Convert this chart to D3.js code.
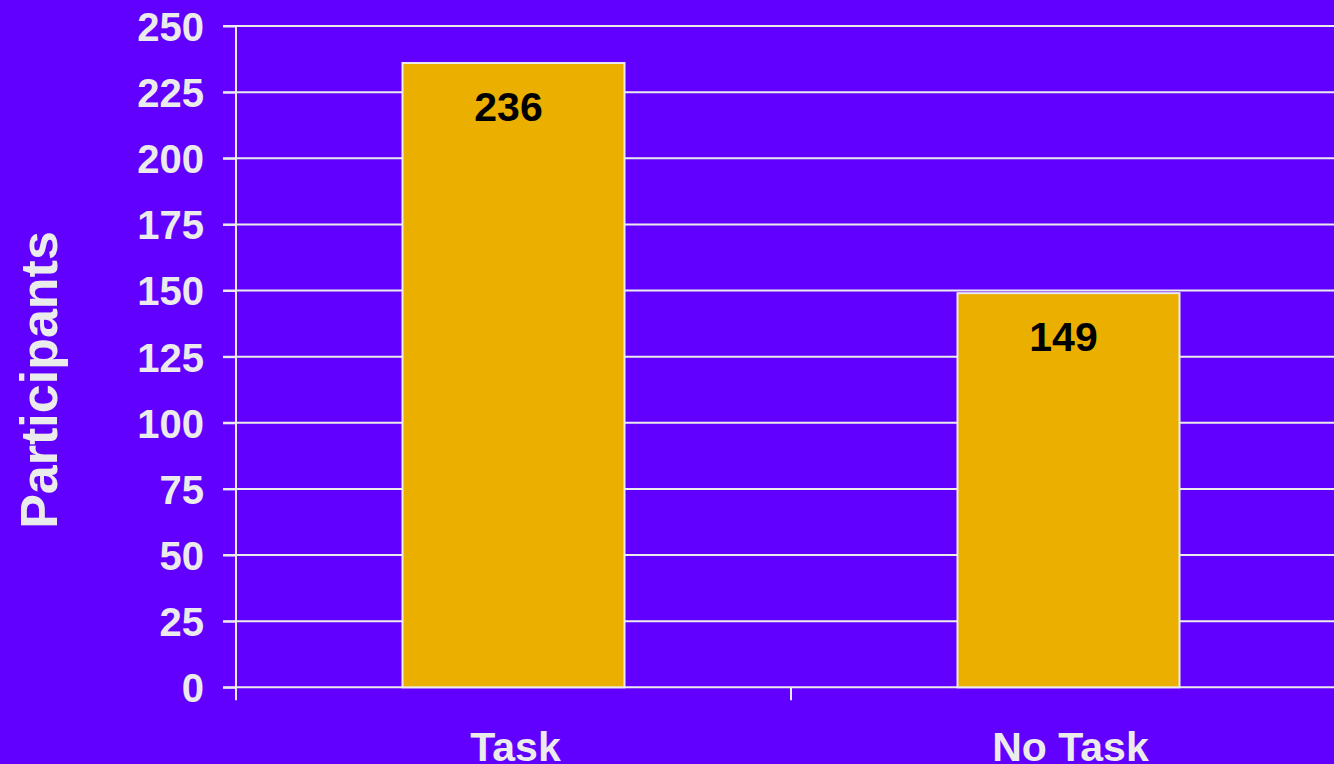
<!DOCTYPE html>
<html>
<head>
<meta charset="utf-8">
<script src="https://cdn.jsdelivr.net/npm/d3@7"></script>
<style>
html,body{margin:0;padding:0;background:#6200FF;overflow:hidden;}
svg{display:block;}
text{font-family:"Liberation Sans",Arial,Helvetica,sans-serif;font-weight:bold;}
</style>
</head>
<body>
<svg id="chart" width="1334" height="764"></svg>
<script>
const categories = ["Task", "No Task"];
const values = [236, 149];
const yTicks = [0, 25, 50, 75, 100, 125, 150, 175, 200, 225, 250];
const yTitle = "Participants";

(function () {
const W = 1334, H = 764;
const plotLeft = 236, plotRight = 1346, plotTop = 26, plotBottom = 687.3;
const bg = "#6200FF", barColor = "#EBAF00", textColor = "#EBEBEB";

const svg = d3.select("#chart");
svg.append("rect").attr("width", W).attr("height", H).attr("fill", bg);

const x = d3.scaleBand().domain(categories).range([plotLeft, plotRight]).paddingInner(0.6).paddingOuter(0.3);
const y = d3.scaleLinear().domain([0, 250]).range([plotBottom, plotTop]);

// gridlines
svg.append("g").selectAll("line").data(yTicks).join("line")
  .attr("x1", plotLeft - 13).attr("x2", plotRight)
  .attr("y1", d => y(d)).attr("y2", d => y(d))
  .attr("stroke", textColor).attr("stroke-width", 2);

// y axis
const yAxis = d3.axisLeft(y).tickValues(yTicks).tickSize(13).tickPadding(19).tickFormat(d3.format("d"));
const gy = svg.append("g").attr("transform", `translate(${plotLeft},0)`).call(yAxis);
gy.select(".domain").remove();
gy.selectAll(".tick line").attr("stroke", textColor).attr("stroke-width", 2);
gy.selectAll(".tick text").attr("fill", textColor).attr("font-size", 40).attr("dy", "0.36em")
  .style("font-family", '"Liberation Sans",Arial,sans-serif').style("font-weight", "bold");
svg.append("line").attr("x1", plotLeft).attr("x2", plotLeft).attr("y1", y(250)).attr("y2", plotBottom + 13)
  .attr("stroke", textColor).attr("stroke-width", 2);

// category boundary ticks
const step = x.step();
const boundaries = categories.map(c => x(c) + x.bandwidth() / 2 + step / 2);
svg.append("g").selectAll("line").data(boundaries.slice(0, -1)).join("line")
  .attr("x1", d => d).attr("x2", d => d).attr("y1", plotBottom).attr("y2", plotBottom + 13)
  .attr("stroke", textColor).attr("stroke-width", 2);

// bars
const data = categories.map((c, i) => ({c, v: values[i]}));
svg.append("g").selectAll("rect").data(data).join("rect")
  .attr("x", d => x(d.c)).attr("width", x.bandwidth())
  .attr("y", d => y(d.v)).attr("height", d => y(0) - y(d.v))
  .attr("fill", barColor).attr("stroke", textColor).attr("stroke-width", 2);

// value labels
svg.append("g").selectAll("text").data(data).join("text")
  .attr("x", d => x(d.c) + x.bandwidth() / 2 - 5)
  .attr("y", d => y(d.v) + 58)
  .attr("text-anchor", "middle").attr("font-size", 41).attr("fill", "#000")
  .text(d => d.v);

// category labels
svg.append("g").selectAll("text").data(categories).join("text")
  .attr("x", d => x(d) + x.bandwidth() / 2 + 2)
  .attr("y", 761)
  .attr("text-anchor", "middle").attr("font-size", 41).attr("fill", textColor)
  .text(d => d);

// y title
svg.append("text")
  .attr("transform", "translate(57,380) rotate(-90)")
  .attr("text-anchor", "middle").attr("font-size", 52).attr("fill", textColor)
  .text(yTitle);
})();
</script>
</body>
</html>
